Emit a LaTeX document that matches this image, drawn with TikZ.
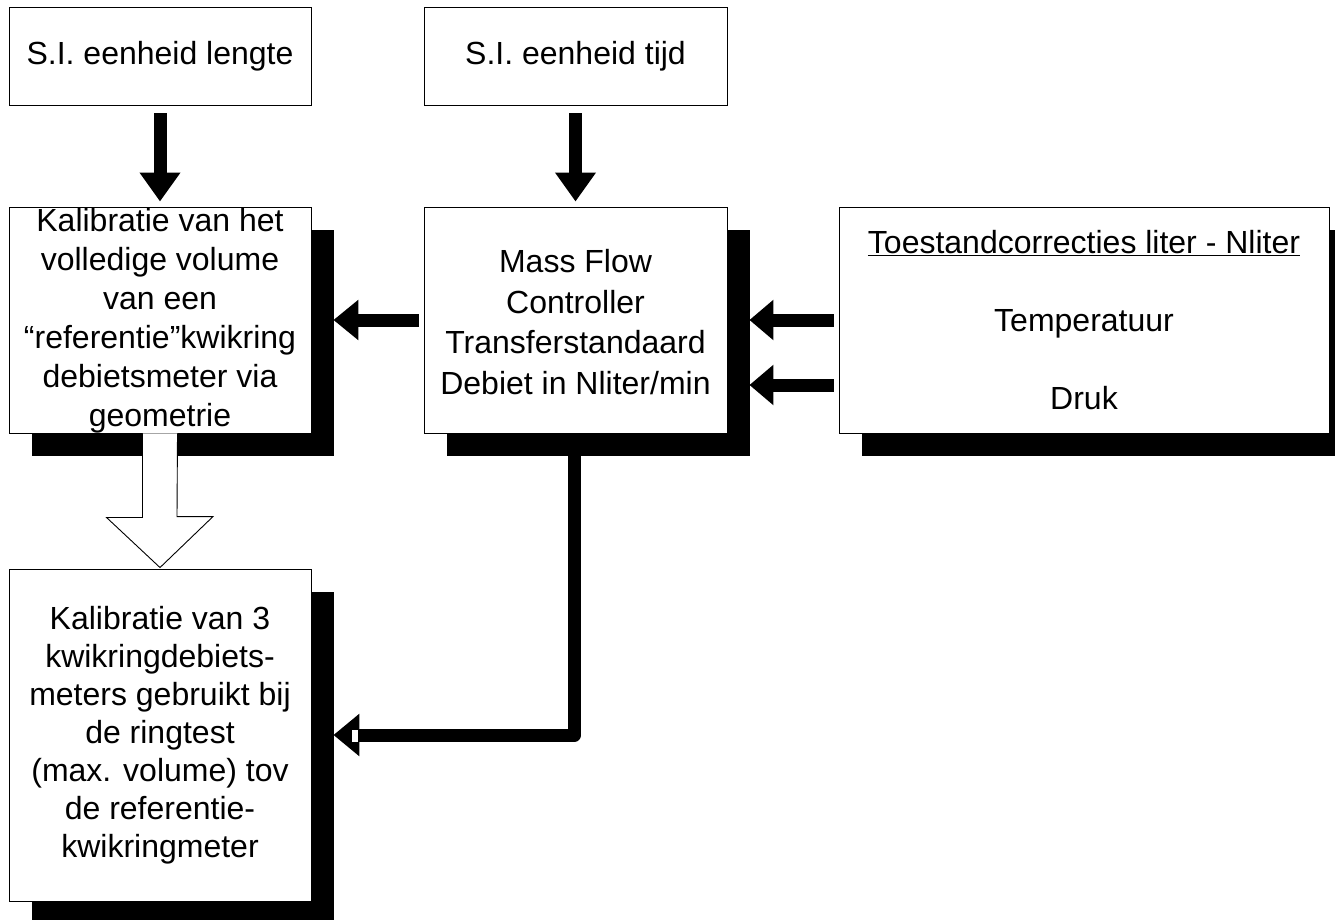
\documentclass[tikz,border=0pt]{standalone}
\usepackage{fontspec}
\setmainfont{Liberation Sans}
\usetikzlibrary{arrows.meta,shadows}
\begin{document}
\begin{tikzpicture}[x=1pt,y=-1pt,
  box/.style={draw=black,line width=0.9pt,fill=white,inner sep=0pt},
  shad/.style={drop shadow={shadow xshift=23pt,shadow yshift=-23pt,fill=black,opacity=1}},
  txt/.style={inner sep=0pt,align=center,font=\fontsize{32}{39}\selectfont},
  blk/.style={line width=13pt,draw=black},
  hollow/.style={draw=black,line width=0.9pt,fill=white}]
\useasboundingbox (0,0) rectangle (1335,920);
% boxes
\node[box,minimum width=302pt,minimum height=98pt] (b1) at (160,56) {};
\node[txt] (t1) at (b1) {S.I. eenheid lengte};
\node[box,minimum width=303pt,minimum height=98pt] (b2) at (575.5,56) {};
\node[txt] (t2) at (b2) {S.I. eenheid tijd};
\node[box,shad,minimum width=302pt,minimum height=226pt] (b3) at (160,320) {};
\node[txt] (t3) at ([yshift=-1pt]b3.center) {Kalibratie van het\\volledige volume\\van een\\“referentie”kwikring\\debietsmeter via\\geometrie};
\node[box,shad,minimum width=303pt,minimum height=226pt] (b4) at (575.5,320) {};
\node[txt,font=\fontsize{32}{40.5}\selectfont] (t4) at ([yshift=-2pt]b4.center) {Mass Flow\\Controller\\Transferstandaard\\Debiet in Nliter/min};
\node[box,shad,minimum width=490pt,minimum height=226pt] (b5) at (1084,320) {};
\node[txt] (t5) at (b5) {\underline{Toestandcorrecties liter - Nliter}\\[39pt]Temperatuur\\[39pt]Druk};
\node[box,shad,minimum width=302pt,minimum height=332pt] (b6) at (160,735) {};
\node[txt,font=\fontsize{32}{38}\selectfont] (t6) at (b6) {Kalibratie van 3\\kwikringdebiets-\\meters gebruikt bij\\de ringtest\\(max. volume) tov\\de referentie-\\kwikringmeter};
% connectors
\draw[blk,-{Triangle[width=39pt,length=29pt]}] ([yshift=-8pt]b1.south) -- ([yshift=5pt]b3.north);
\draw[blk,-{Triangle[width=39pt,length=29pt]}] ([yshift=-8pt]b2.south) -- ([yshift=5pt]b4.north);
\draw[blk,-{Triangle[width=39pt,length=25pt]}] ([xshift=-5pt]b4.west) -- ([xshift=22pt]b3.east);
\draw[blk,-{Triangle[width=39pt,length=24pt]}] ([xshift=-5pt]b5.west) -- ([xshift=22pt]b4.east);
\draw[blk,-{Triangle[width=39pt,length=24pt]}] ([xshift=-5pt,yshift=-65pt]b5.west) -- ([xshift=22pt,yshift=-65pt]b4.east);
\draw[blk,line join=round,-{Triangle[width=41pt,length=26pt]}] ([xshift=-1pt]b4.south) -- ([xshift=-1pt]b4.south |- b6.east) -- ([xshift=22pt]b6.east);
\fill[white] ([xshift=41pt,yshift=5pt]b6.east) rectangle ([xshift=47pt,yshift=-7pt]b6.east);
\draw[hollow] ([xshift=-17.5pt]b3.south) -- ++(0,84) -- ++(-36,0) -- ([yshift=1pt]b6.north) -- ++(53,-51) -- ++(-36,0) -- ([xshift=17.5pt]b3.south);
\end{tikzpicture}
\end{document}
